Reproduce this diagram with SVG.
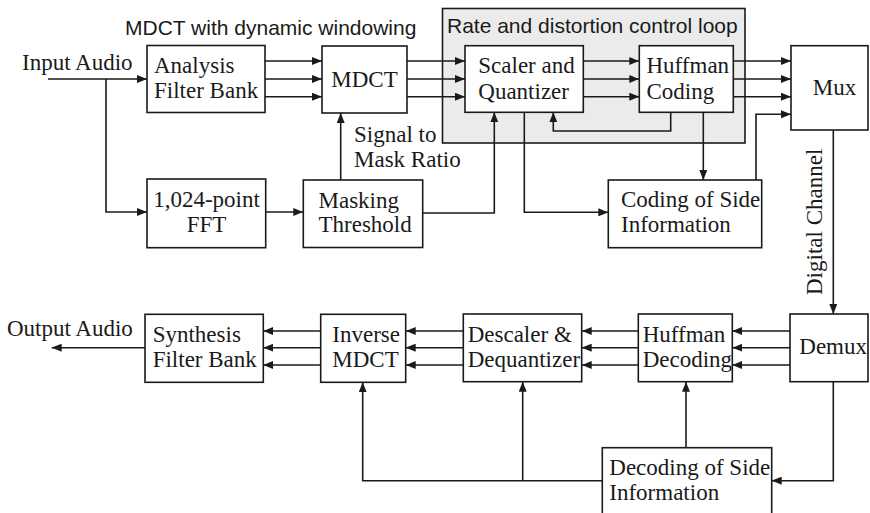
<svg xmlns="http://www.w3.org/2000/svg" width="870" height="513" viewBox="0 0 870 513">
<defs>
<marker id="ah" viewBox="0 0 10 8" refX="10" refY="4" markerWidth="10" markerHeight="8" markerUnits="userSpaceOnUse" orient="auto">
<path d="M0,0 L10,4 L0,8 Z" fill="#1a1a1a"/>
</marker>
<style>
.box{fill:#fff;stroke:#1a1a1a;stroke-width:1.6}
.grp{fill:#ebebeb;stroke:#1a1a1a;stroke-width:1.6}
.ln{fill:none;stroke:#1a1a1a;stroke-width:1.6}
.ar{fill:none;stroke:#1a1a1a;stroke-width:1.6;marker-end:url(#ah)}
.t{font-family:"Liberation Serif","Times New Roman",serif;font-size:23px;fill:#1a1a1a}
.s{font-family:"Liberation Sans",Arial,sans-serif;font-size:21px;fill:#1a1a1a}
</style>
</defs>
<rect width="870" height="513" fill="#fff"/>

<g id="rate-loop">
<rect class="grp" x="442.5" y="8.5" width="302.5" height="134.5"/>
<text class="s" x="447" y="33">Rate and distortion control loop</text>
</g>
<text id="mdct-label" class="s" x="125" y="35">MDCT with dynamic windowing</text>
<text id="input-label" class="t" x="22" y="70">Input Audio</text>
<text id="output-label" class="t" x="7" y="335.5">Output Audio</text>
<text id="smr-label" class="t" x="354" y="141.7"><tspan x="354">Signal to</tspan><tspan x="354" y="166.7">Mask Ratio</tspan></text>
<text id="channel-label" class="t" transform="translate(822,295) rotate(-90)" x="0" y="0">Digital Channel</text>

<g id="analysis">
<rect class="box" x="147" y="45.5" width="118" height="67"/>
<text class="t" x="154" y="72.7">Analysis</text>
<text class="t" x="154" y="98.3">Filter Bank</text>
</g>
<g id="mdct">
<rect class="box" x="322" y="46" width="85" height="67"/>
<text class="t" x="364.5" y="87.3" text-anchor="middle">MDCT</text>
</g>
<g id="scaler">
<rect class="box" x="465" y="45.7" width="118.3" height="66.6"/>
<text class="t" x="478.3" y="73.3">Scaler and</text>
<text class="t" x="478.3" y="99.3">Quantizer</text>
</g>
<g id="huffman-coding">
<rect class="box" x="639.3" y="45.7" width="94" height="66.6"/>
<text class="t" x="646.5" y="73.3">Huffman</text>
<text class="t" x="646.5" y="99.3">Coding</text>
</g>
<g id="mux">
<rect class="box" x="791" y="45.7" width="77" height="84.3"/>
<text class="t" x="812.7" y="95">Mux</text>
</g>
<g id="fft">
<rect class="box" x="147" y="179" width="118.7" height="68.7"/>
<text class="t" x="206.5" y="206.7" text-anchor="middle">1,024-point</text>
<text class="t" x="206.5" y="231.7" text-anchor="middle">FFT</text>
</g>
<g id="masking">
<rect class="box" x="303.3" y="180" width="119.4" height="67.5"/>
<text class="t" x="318.5" y="208">Masking</text>
<text class="t" x="318.5" y="232">Threshold</text>
</g>
<g id="coding-side">
<rect class="box" x="608.3" y="180" width="153.4" height="67.7"/>
<text class="t" x="621" y="206.7">Coding of Side</text>
<text class="t" x="621" y="232.3">Information</text>
</g>

<g id="synthesis">
<rect class="box" x="145" y="314.3" width="118.3" height="68"/>
<text class="t" x="152.7" y="341.7">Synthesis</text>
<text class="t" x="152.7" y="367.3">Filter Bank</text>
</g>
<g id="imdct">
<rect class="box" x="320.7" y="314.3" width="85" height="68"/>
<text class="t" x="332.3" y="341.7">Inverse</text>
<text class="t" x="332.3" y="367.3">MDCT</text>
</g>
<g id="descaler">
<rect class="box" x="463.3" y="314" width="118.4" height="67.7"/>
<text class="t" x="467.7" y="341.7">Descaler &amp;</text>
<text class="t" x="467.7" y="367.3">Dequantizer</text>
</g>
<g id="huffman-decoding">
<rect class="box" x="638.3" y="314" width="94" height="67.7"/>
<text class="t" x="642.7" y="341.7">Huffman</text>
<text class="t" x="642.7" y="367.3">Decoding</text>
</g>
<g id="demux">
<rect class="box" x="790" y="314" width="78" height="67.7"/>
<text class="t" x="799.3" y="354.3">Demux</text>
</g>
<g id="decoding-side">
<rect class="box" x="602.3" y="447.7" width="169.4" height="80"/>
<text class="t" x="609.3" y="475">Decoding of Side</text>
<text class="t" x="609.3" y="500">Information</text>
</g>

<g id="connectors">
<path class="ar" d="M48,79 H147"/>
<path class="ar" d="M106,79 V212 H147"/>
<path class="ar" d="M265,61 H322"/>
<path class="ar" d="M265,79 H322"/>
<path class="ar" d="M265,96.7 H322"/>
<path class="ar" d="M407,61 H465"/>
<path class="ar" d="M407,79 H465"/>
<path class="ar" d="M407,96.7 H465"/>
<path class="ar" d="M583.3,61 H639.3"/>
<path class="ar" d="M583.3,79 H639.3"/>
<path class="ar" d="M583.3,96.7 H639.3"/>
<path class="ar" d="M733.3,61 H791"/>
<path class="ar" d="M733.3,79 H791"/>
<path class="ar" d="M733.3,96.7 H791"/>
<path class="ar" d="M756,180 V114.3 H791"/>
<path class="ar" d="M670.7,112.3 V131 H553.3 V112.3"/>
<path class="ar" d="M703.3,112.3 V180"/>
<path class="ar" d="M524.3,112.3 V212.3 H608.3"/>
<path class="ar" d="M265.7,212 H303.3"/>
<path class="ar" d="M340.7,180 V113"/>
<path class="ar" d="M422.7,213 H494.3 V112.3"/>
<path class="ar" d="M833.3,130 V314"/>
<path class="ar" d="M790,331 H732.3"/>
<path class="ar" d="M790,347.7 H732.3"/>
<path class="ar" d="M790,365 H732.3"/>
<path class="ar" d="M638.3,331 H581.7"/>
<path class="ar" d="M638.3,347.7 H581.7"/>
<path class="ar" d="M638.3,365 H581.7"/>
<path class="ar" d="M463.3,331 H405.7"/>
<path class="ar" d="M463.3,347.7 H405.7"/>
<path class="ar" d="M463.3,365 H405.7"/>
<path class="ar" d="M320.7,331 H263.3"/>
<path class="ar" d="M320.7,347.7 H263.3"/>
<path class="ar" d="M320.7,365 H263.3"/>
<path class="ar" d="M145,347.7 H51.7"/>
<path class="ar" d="M833.3,381.7 V480.7 H771.7"/>
<path class="ar" d="M686,447.7 V381.7"/>
<path class="ar" d="M602.3,480.7 H362.7 V382.3"/>
<path class="ar" d="M522.7,480.7 V381.7"/>
</g>
</svg>
